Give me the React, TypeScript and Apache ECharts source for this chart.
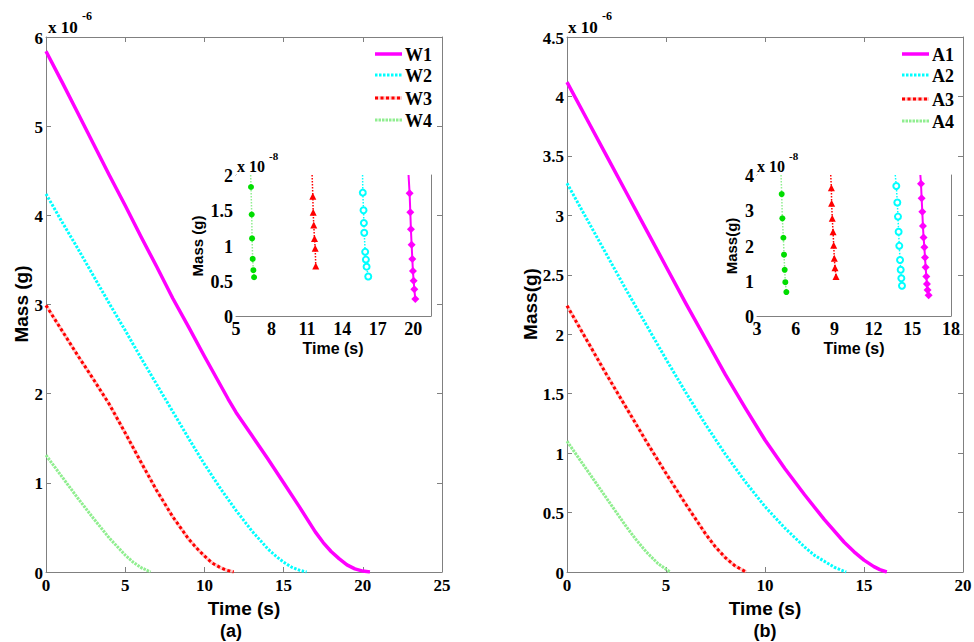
import React, { useEffect, useRef } from "react";
import * as echarts from "echarts";

// ---------- Panel (a) main curves: [time s, mass x1e-6 g] ----------
const W1 = [[0, 5.84], [1, 5.5], [2, 5.15], [3, 4.8], [4, 4.45], [5, 4.11], [6, 3.76], [7, 3.42], [8, 3.07], [9, 2.75], [10, 2.42], [11, 2.1], [11.5, 1.94], [12, 1.79], [13, 1.53], [14, 1.27], [15, 1.0], [16, 0.73], [17, 0.45], [17.5, 0.33], [18, 0.23], [18.5, 0.15], [19, 0.08], [19.5, 0.035], [20, 0.01], [20.45, 0]];
const W2 = [[0, 4.24], [1, 3.93], [2, 3.63], [3, 3.32], [4, 3.01], [5, 2.71], [6, 2.4], [7, 2.1], [8, 1.8], [9, 1.5], [10, 1.21], [11, 0.94], [12, 0.69], [13, 0.46], [14, 0.26], [14.5, 0.18], [15, 0.11], [15.5, 0.055], [16, 0.02], [16.45, 0]];
const W3 = [[0, 2.99], [1, 2.71], [2, 2.43], [3, 2.16], [4, 1.88], [5, 1.56], [6, 1.23], [7, 0.91], [8, 0.62], [9, 0.37], [9.5, 0.27], [10, 0.18], [10.5, 0.1], [11, 0.05], [11.4, 0.02], [11.85, 0]];
const W4 = [[0, 1.31], [1, 1.07], [2, 0.83], [3, 0.6], [4, 0.38], [5, 0.19], [5.5, 0.11], [6, 0.05], [6.6, 0]];

// ---------- Panel (b) main curves ----------
const A1 = [[0, 4.12], [1, 3.81], [2, 3.5], [3, 3.19], [4, 2.88], [5, 2.57], [6, 2.26], [7, 1.96], [8, 1.66], [9, 1.38], [10, 1.11], [11, 0.87], [12, 0.65], [13, 0.44], [14, 0.25], [14.5, 0.17], [15, 0.1], [15.5, 0.045], [15.8, 0.02], [16.15, 0]];
const A2 = [[0, 3.27], [1, 2.97], [2, 2.67], [3, 2.37], [4, 2.08], [5, 1.79], [6, 1.51], [7, 1.24], [8, 0.99], [9, 0.76], [10, 0.55], [11, 0.37], [12, 0.21], [12.5, 0.14], [13, 0.09], [13.5, 0.04], [14.1, 0]];
const A3 = [[0, 2.24], [1, 1.95], [2, 1.66], [3, 1.38], [4, 1.1], [5, 0.83], [6, 0.57], [7, 0.32], [7.5, 0.21], [8, 0.12], [8.5, 0.05], [9.05, 0]];
const A4 = [[0, 1.1], [1, 0.86], [2, 0.62], [3, 0.38], [3.5, 0.27], [4, 0.17], [4.6, 0.07], [5.2, 0]];

// ---------- Inset (a): [time s, mass x1e-8 g] ----------
const IW1_TOP = [19.6, 2];
const IW1 = [[19.69, 1.74], [19.75, 1.47], [19.8, 1.23], [19.86, 1.01], [19.92, 0.81], [19.97, 0.64], [20.03, 0.5], [20.09, 0.38], [20.17, 0.24]];
const IW2_TOP = [15.71, 2];
const IW2 = [[15.73, 1.75], [15.79, 1.5], [15.82, 1.32], [15.85, 1.18], [15.93, 0.91], [15.99, 0.8], [16.05, 0.7], [16.19, 0.56]];
const IW3_TOP = [11.44, 2];
const IW3 = [[11.5, 1.7], [11.53, 1.47], [11.58, 1.29], [11.64, 1.1], [11.7, 0.96], [11.75, 0.71]];
const IW4_TOP = [6.24, 2];
const IW4 = [[6.27, 1.83], [6.33, 1.44], [6.36, 1.1], [6.41, 0.81], [6.47, 0.65], [6.53, 0.55]];

// ---------- Inset (b) ----------
const IA1_TOP = [15.63, 4];
const IA1 = [[15.68, 3.75], [15.73, 3.34], [15.78, 2.96], [15.83, 2.55], [15.88, 2.23], [15.94, 1.95], [15.99, 1.66], [16.04, 1.38], [16.09, 1.12], [16.14, 0.91], [16.19, 0.74], [16.27, 0.59]];
const IA2_TOP = [13.69, 4];
const IA2 = [[13.77, 3.69], [13.85, 3.22], [13.9, 2.82], [13.95, 2.39], [14.0, 1.99], [14.06, 1.59], [14.11, 1.31], [14.16, 1.07], [14.21, 0.86]];
const IA3_TOP = [8.7, 4];
const IA3 = [[8.75, 3.64], [8.77, 3.2], [8.82, 2.77], [8.88, 2.39], [8.93, 2.01], [8.98, 1.64], [9.03, 1.37], [9.11, 1.12]];
const IA4_TOP = [4.86, 4];
const IA4 = [[4.91, 3.46], [4.96, 2.77], [5.04, 2.22], [5.09, 1.74], [5.14, 1.31], [5.19, 0.96], [5.27, 0.68]];

// ---------- Tick labels ----------
const MAIN_A_XTICKS = [0, 5, 10, 15, 20, 25];
const MAIN_A_YTICKS = [0, 1, 2, 3, 4, 5, 6];
const MAIN_B_XTICKS = [0, 5, 10, 15, 20];
const MAIN_B_YTICKS = [0, 0.5, 1, 1.5, 2, 2.5, 3, 3.5, 4, 4.5];
const INSET_A_XTICKS = [5, 8, 11, 14, 17, 20];
const INSET_A_YTICKS = [0, 0.5, 1, 1.5, 2];
const INSET_B_XTICKS = [3, 6, 9, 12, 15, 18];
const INSET_B_YTICKS = [0, 1, 2, 3, 4];

const LEGEND_A = ["W1", "W2", "W3", "W4"];
const LEGEND_B = ["A1", "A2", "A3", "A4"];

const GRAY = "#808080";
const SERIF = "Liberation Serif, Times New Roman, serif";
const SANS = "Liberation Sans, Arial, sans-serif";
const MAGENTA = "#FF00FF";
const CYAN = "#00FFFF";
const RED = "#FF0000";
const LGREEN = "#90EE90";
const GREEN = "#00DD00";

const STYLE_W1 = { color: MAGENTA, width: 3.5, dash: null as any };
const STYLE_W2 = { color: CYAN, width: 3, dash: [2.5, 1.5] };
const STYLE_W3 = { color: RED, width: 3, dash: [3, 2.5] };
const STYLE_W4 = { color: LGREEN, width: 3, dash: [2.5, 1] };
const STYLES = [STYLE_W1, STYLE_W2, STYLE_W3, STYLE_W4];

function makeAxis(kind: "x" | "y", gridIndex: number, min: number, max: number, ticks: number[], mirror: boolean, inset: boolean) {
  return {
    type: "value",
    gridIndex,
    min,
    max,
    position: kind === "x" ? (mirror ? "top" : "bottom") : mirror ? "right" : "left",
    axisLine: { show: true, onZero: false, lineStyle: { color: GRAY, width: 1 } },
    axisTick: { show: true, inside: true, length: inset ? 4 : 5, lineStyle: { color: GRAY, width: 1 }, customValues: ticks },
    axisLabel: { show: false, customValues: ticks },
    splitLine: { show: false },
    splitArea: { show: false },
  };
}

function mainSeries(name: string, data: number[][], idx: number, color: string, width: number, type: any, z = 3) {
  return {
    type: "line",
    name,
    data,
    xAxisIndex: idx,
    yAxisIndex: idx,
    symbol: "none",
    smooth: false,
    lineStyle: { color, width, type, cap: "butt", join: "round" },
    itemStyle: { color },
    z,
    silent: true,
  };
}

function insetSeries(name: string, top: number[], data: number[][], idx: number, color: string, lineColor: string, lineWidth: number, lineType: any, symbol: string, size: number, borderWidth = 0) {
  return {
    type: "line",
    name,
    xAxisIndex: idx,
    yAxisIndex: idx,
    data: [{ value: top, symbol: "none" }, ...data.map((v) => ({ value: v }))],
    symbol,
    symbolSize: size,
    showSymbol: true,
    showAllSymbol: true,
    lineStyle: { color: lineColor, width: lineWidth, type: lineType },
    itemStyle: { color, borderColor: color, borderWidth },
    z: 5,
    silent: true,
  };
}

function txt(text: string, x: number, y: number, size: number, family: string, rot = 0, align = "center") {
  return {
    type: "text",
    x,
    y,
    rotation: rot,
    silent: true,
    z: 10,
    style: { text, font: `bold ${size}px ${family}`, fill: "#000", align, verticalAlign: "middle" },
  };
}

function legendBlock(names: string[], x0: number, rows: number[]) {
  const els: any[] = [];
  names.forEach((n, i) => {
    const s = STYLES[i];
    if (i === 2) {
      els.push({ type: "line", silent: true, z: 10, shape: { x1: x0, y1: rows[i], x2: x0 + 27, y2: rows[i] }, style: { stroke: "rgba(255,140,140,0.45)", lineWidth: 3.5 } });
    }
    els.push({
      type: "line",
      silent: true,
      z: 11,
      shape: { x1: x0, y1: rows[i], x2: x0 + 27, y2: rows[i] },
      style: { stroke: s.color, lineWidth: s.width, lineDash: s.dash || undefined },
    });
    els.push(txt(n, x0 + 30, rows[i] + 1, 18, SERIF, 0, "left"));
  });
  return els;
}

const TICK_SPECS = [
  { axis: 0, xt: MAIN_A_XTICKS, yt: MAIN_A_YTICKS, xmin: 0, ymin: 0, size: 17 },
  { axis: 2, xt: MAIN_B_XTICKS, yt: MAIN_B_YTICKS, xmin: 0, ymin: 0, size: 17 },
  { axis: 4, xt: INSET_A_XTICKS, yt: INSET_A_YTICKS, xmin: 5, ymin: 0, size: 18 },
  { axis: 6, xt: INSET_B_XTICKS, yt: INSET_B_YTICKS, xmin: 3, ymin: 0, size: 18 },
];

export default function App() {
  const ref = useRef<HTMLDivElement>(null);
  useEffect(() => {
    const chart = echarts.init(ref.current!, null, { renderer: "svg" });
    const baseGraphic: any[] = [
      ...legendBlock(LEGEND_A, 375, [54, 75, 98, 120]),
      ...legendBlock(LEGEND_B, 902, [54, 75, 99, 121]),
      txt("x 10", 48, 27, 17, SERIF, 0, "left"),
      txt("-6", 82, 16, 12, SERIF, 0, "left"),
      txt("x 10", 568, 27, 17, SERIF, 0, "left"),
      txt("-6", 602, 16, 12, SERIF, 0, "left"),
      txt("x 10", 237, 166, 16, SERIF, 0, "left"),
      txt("-8", 269, 156, 11, SERIF, 0, "left"),
      txt("x 10", 757, 166, 16, SERIF, 0, "left"),
      txt("-8", 789, 156, 11, SERIF, 0, "left"),
      txt("Mass (g)", 21, 304, 19, SANS, Math.PI / 2),
      txt("Mass(g)", 530, 304, 19, SANS, Math.PI / 2),
      txt("Time (s)", 244, 608, 19, SANS),
      txt("Time (s)", 765, 608, 19, SANS),
      txt("(a)", 231, 631, 18, SANS),
      txt("(b)", 765, 631, 18, SANS),
      txt("Mass (g)", 197, 246, 15, SANS, Math.PI / 2),
      txt("Time (s)", 333, 348, 16, SANS),
      txt("Mass(g)", 731, 246, 15, SANS, Math.PI / 2),
      txt("Time (s)", 854, 348, 16, SANS),
    ];
    const option: any = {
      animation: false,
      backgroundColor: "#fff",
      grid: [
        { left: 46, top: 37, width: 396, height: 535, containLabel: false },
        { left: 567, top: 37, width: 396, height: 535, containLabel: false },
        { left: 236, top: 175, width: 195, height: 141, show: true, backgroundColor: "#fff", borderWidth: 0, z: 4 },
        { left: 757, top: 175, width: 194, height: 141, show: true, backgroundColor: "#fff", borderWidth: 0, z: 4 },
      ],
      xAxis: [
        makeAxis("x", 0, 0, 25, MAIN_A_XTICKS, false, false),
        makeAxis("x", 0, 0, 25, MAIN_A_XTICKS, true, false),
        makeAxis("x", 1, 0, 20, MAIN_B_XTICKS, false, false),
        makeAxis("x", 1, 0, 20, MAIN_B_XTICKS, true, false),
        makeAxis("x", 2, 5, 21.5, INSET_A_XTICKS, false, true),
        makeAxis("x", 2, 5, 21.5, INSET_A_XTICKS, true, true),
        makeAxis("x", 3, 3, 18, INSET_B_XTICKS, false, true),
        makeAxis("x", 3, 3, 18, INSET_B_XTICKS, true, true),
      ],
      yAxis: [
        makeAxis("y", 0, 0, 6, MAIN_A_YTICKS, false, false),
        makeAxis("y", 0, 0, 6, MAIN_A_YTICKS, true, false),
        makeAxis("y", 1, 0, 4.5, MAIN_B_YTICKS, false, false),
        makeAxis("y", 1, 0, 4.5, MAIN_B_YTICKS, true, false),
        makeAxis("y", 2, 0, 2, INSET_A_YTICKS, false, true),
        makeAxis("y", 2, 0, 2, INSET_A_YTICKS, true, true),
        makeAxis("y", 3, 0, 4, INSET_B_YTICKS, false, true),
        makeAxis("y", 3, 0, 4, INSET_B_YTICKS, true, true),
      ],
      series: [
        mainSeries("W1", W1, 0, STYLE_W1.color, STYLE_W1.width, "solid"),
        mainSeries("W2", W2, 0, STYLE_W2.color, STYLE_W2.width, STYLE_W2.dash),
        mainSeries("W3bg", W3, 0, "rgba(255,140,140,0.45)", 3.5, "solid", 2),
        mainSeries("W3", W3, 0, STYLE_W3.color, STYLE_W3.width, STYLE_W3.dash),
        mainSeries("W4", W4, 0, STYLE_W4.color, STYLE_W4.width, STYLE_W4.dash),
        mainSeries("A1", A1, 2, STYLE_W1.color, STYLE_W1.width, "solid"),
        mainSeries("A2", A2, 2, STYLE_W2.color, STYLE_W2.width, STYLE_W2.dash),
        mainSeries("A3bg", A3, 2, "rgba(255,140,140,0.45)", 3.5, "solid", 2),
        mainSeries("A3", A3, 2, STYLE_W3.color, STYLE_W3.width, STYLE_W3.dash),
        mainSeries("A4", A4, 2, STYLE_W4.color, STYLE_W4.width, STYLE_W4.dash),
        insetSeries("iW4", IW4_TOP, IW4, 4, GREEN, LGREEN, 1.5, "dotted", "circle", 6),
        insetSeries("iW3", IW3_TOP, IW3, 4, RED, RED, 1.5, "dotted", "triangle", 7),
        insetSeries("iW2", IW2_TOP, IW2, 4, CYAN, CYAN, 1.5, "dotted", "emptyCircle", 6, 2.5),
        insetSeries("iW1", IW1_TOP, IW1, 4, MAGENTA, MAGENTA, 2, "solid", "diamond", 8),
        insetSeries("iA4", IA4_TOP, IA4, 6, GREEN, LGREEN, 1.5, "dotted", "circle", 6),
        insetSeries("iA3", IA3_TOP, IA3, 6, RED, RED, 1.5, "dotted", "triangle", 7),
        insetSeries("iA2", IA2_TOP, IA2, 6, CYAN, CYAN, 1.5, "dotted", "emptyCircle", 6, 2.5),
        insetSeries("iA1", IA1_TOP, IA1, 6, MAGENTA, MAGENTA, 2, "solid", "diamond", 8),
      ],
      graphic: baseGraphic,
    };
    chart.setOption(option);

    // Tick labels placed through the library's own scales
    const tickEls: any[] = [];
    TICK_SPECS.forEach((s) => {
      const finder = { xAxisIndex: s.axis, yAxisIndex: s.axis };
      s.xt.forEach((v) => {
        const p = chart.convertToPixel(finder as any, [v, s.ymin]) as number[];
        if (p) tickEls.push(txt(String(v), p[0], p[1] + 13, s.size, SERIF));
      });
      s.yt.forEach((v) => {
        const p = chart.convertToPixel(finder as any, [s.xmin, v]) as number[];
        if (p) tickEls.push(txt(String(v), p[0] - 3, p[1] + 1, s.size, SERIF, 0, "right"));
      });
    });
    chart.setOption({ graphic: [...baseGraphic, ...tickEls] });
    return () => chart.dispose();
  }, []);
  return <div ref={ref} style={{ position: "absolute", left: 0, top: 0, width: 974, height: 642, background: "#fff" }} />;
}
